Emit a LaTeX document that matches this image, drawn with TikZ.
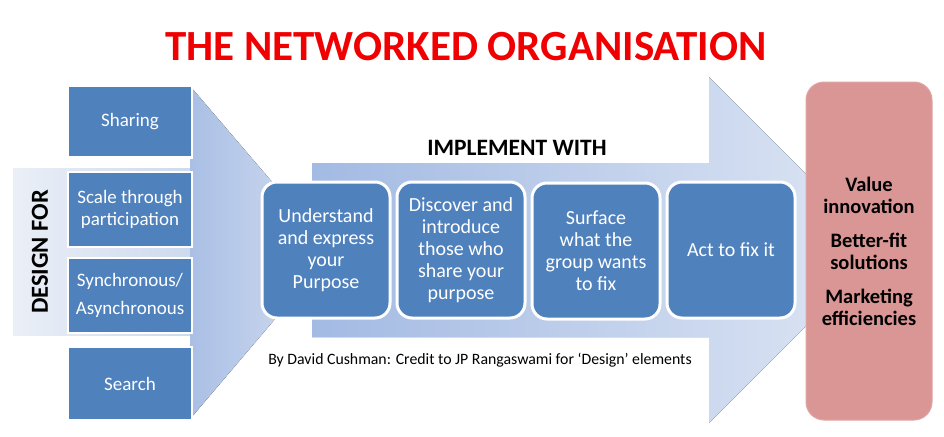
\documentclass[tikz,border=0pt]{standalone}
\usepackage{fontspec}
\setmainfont{Carlito}
\definecolor{boxblue}{RGB}{79,129,189}
\definecolor{pinkfill}{RGB}{217,150,148}
\definecolor{titlered}{RGB}{240,0,0}
\begin{document}
\begin{tikzpicture}[x=1pt,y=-1pt,
  lbox/.style={draw=white,line width=2.5pt,fill=boxblue,text=white,minimum width=124pt,align=center,font=\fontsize{19}{22}\selectfont,inner sep=0pt},
  mbox/.style={draw=white,line width=3pt,fill=boxblue,text=white,minimum width=128pt,minimum height=136pt,rounded corners=15pt,align=center,font=\fontsize{20}{22}\selectfont,inner sep=0pt},
  outbox/.style={draw=pinkfill!85!white,line width=1pt,fill=pinkfill,minimum width=126pt,minimum height=338pt,rounded corners=18pt,align=center,font=\bfseries\fontsize{20.5}{22}\selectfont,inner sep=0pt}]
\useasboundingbox (0,0) rectangle (944,436);
\fill[white] (0,0) rectangle (944,436);
% title
\node[font=\bfseries\fontsize{43}{48}\selectfont,text=titlered] (title) at (466,47) {THE NETWORKED ORGANISATION};
% design for band
\fill[left color={rgb,255:red,234;green,239;blue,247},right color={rgb,255:red,205;green,217;blue,237}] (13,168) rectangle (196,335);
\node[rotate=90,font=\bfseries\fontsize{24.5}{28}\selectfont] (designfor) at (40,252) {DESIGN FOR};
% left arrow
\fill[left color={rgb,255:red,170;green,191;blue,229},right color={rgb,255:red,214;green,224;blue,241}] (190,86) -- (332,252) -- (190,419) -- cycle;
% implement arrow
\fill[left color={rgb,255:red,163;green,186;blue,227},right color={rgb,255:red,222;green,230;blue,244}] (312,163) -- (709,163) -- (709,77) -- (882,250) -- (709,423) -- (709,337) -- (312,337) -- cycle;
% left boxes
\node[lbox,minimum height=72pt] (sharing) at (130,121.5) {Sharing};
\node[lbox,minimum height=75pt] (scale) at (130,209.5) {Scale through\\participation};
\node[lbox,minimum height=75pt] (sync) at (130,295.5) {Synchronous/\\[6pt]Asynchronous};
\node[lbox,minimum height=73pt] (search) at (130,383.5) {Search};
% implement
\node[font=\bfseries\fontsize{23.5}{26}\selectfont] (impl) at (517,148) {IMPLEMENT WITH};
\node[mbox] (understand) at (326,250) {Understand\\and express\\your\\Purpose};
\node[mbox] (discover) at (461,250) {Discover and\\introduce\\those who\\share your\\purpose};
\node[mbox] (surface) at (596,251) {Surface\\what the\\group wants\\to fix};
\node[mbox] (act) at (731,250) {Act to fix it};
\node[font=\fontsize{15.8}{18}\selectfont] (credit) at (480,360) {By David Cushman: Credit to JP Rangaswami for ‘Design’ elements};
% outcome
\node[outbox] (outcome) at (869,251) {Value\\innovation\\[12pt]Better-fit\\solutions\\[12pt]Marketing\\efficiencies};
\end{tikzpicture}
\end{document}
